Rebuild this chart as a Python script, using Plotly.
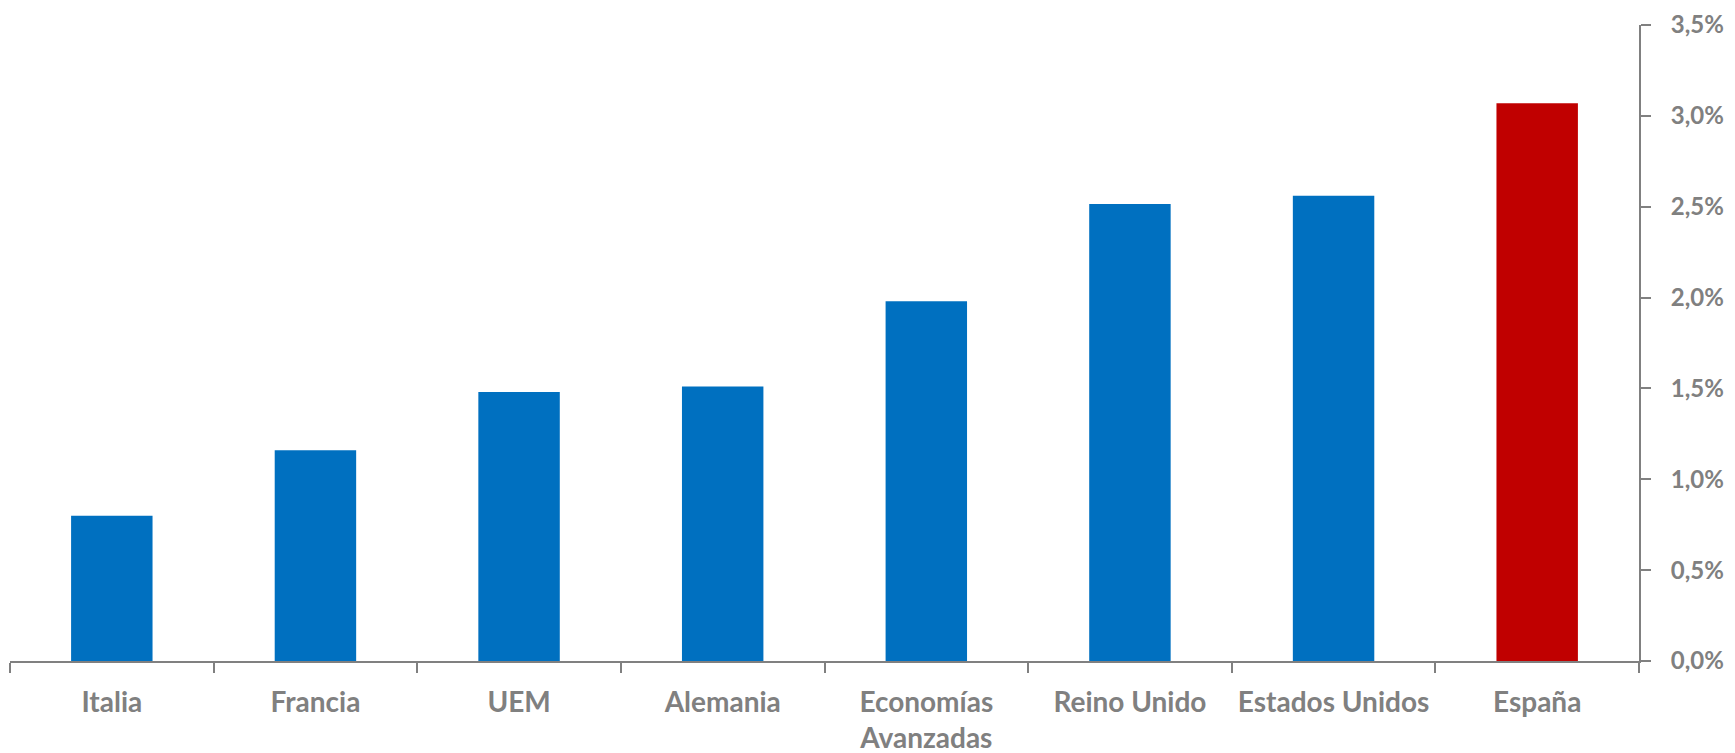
import plotly.graph_objects as go

categories = ["Italia", "Francia", "UEM", "Alemania", "Economías<br>Avanzadas",
              "Reino Unido", "Estados Unidos", "España"]
values = [0.80, 1.16, 1.48, 1.51, 1.98, 2.515, 2.56, 3.07]
bar_colors = ["#0070C0"] * 7 + ["#C00000"]
y_tickvals = [0, 0.5, 1.0, 1.5, 2.0, 2.5, 3.0, 3.5]
y_ticktext = ["0,0%", "0,5%", "1,0%", "1,5%", "2,0%", "2,5%", "3,0%", "3,5%"]

font_family = "Lato, Open Sans, sans-serif"
grey = "#808080"

fig = go.Figure(go.Bar(x=categories, y=values, marker=dict(color=bar_colors, line=dict(width=0)),
                       hoverinfo="skip"))

# the page body has an 8px default margin, so the figure is sized to fit inside the window
fig.update_layout(
    template="none",
    width=1727, height=745,
    margin=dict(l=2, r=96, t=17, b=92),
    paper_bgcolor="white", plot_bgcolor="white",
    bargap=0.6, showlegend=False,
    font=dict(family=font_family, color=grey, size=28),
)
fig.update_xaxes(
    type="category", range=[-0.5, 7.5], automargin=False,
    showline=True, linecolor=grey, linewidth=2,
    ticks="outside", tickson="boundaries", ticklen=10, tickwidth=2, tickcolor=grey,
    showgrid=False, zeroline=False,
    tickfont=dict(family=font_family, size=28, color=grey, weight="bold"),
    ticklabelstandoff=15,
)
fig.update_yaxes(
    side="right", range=[0, 3.5001], automargin=False,
    tickvals=y_tickvals, ticktext=y_ticktext,
    showline=True, linecolor=grey, linewidth=2,
    ticks="outside", ticklen=10, tickwidth=2, tickcolor=grey,
    showgrid=False, zeroline=False,
    tickfont=dict(family=font_family, size=24, color=grey, weight="bold"),
    ticklabelstandoff=15, ticklabeloverflow="allow",
)

fig.write_html("out.html")
